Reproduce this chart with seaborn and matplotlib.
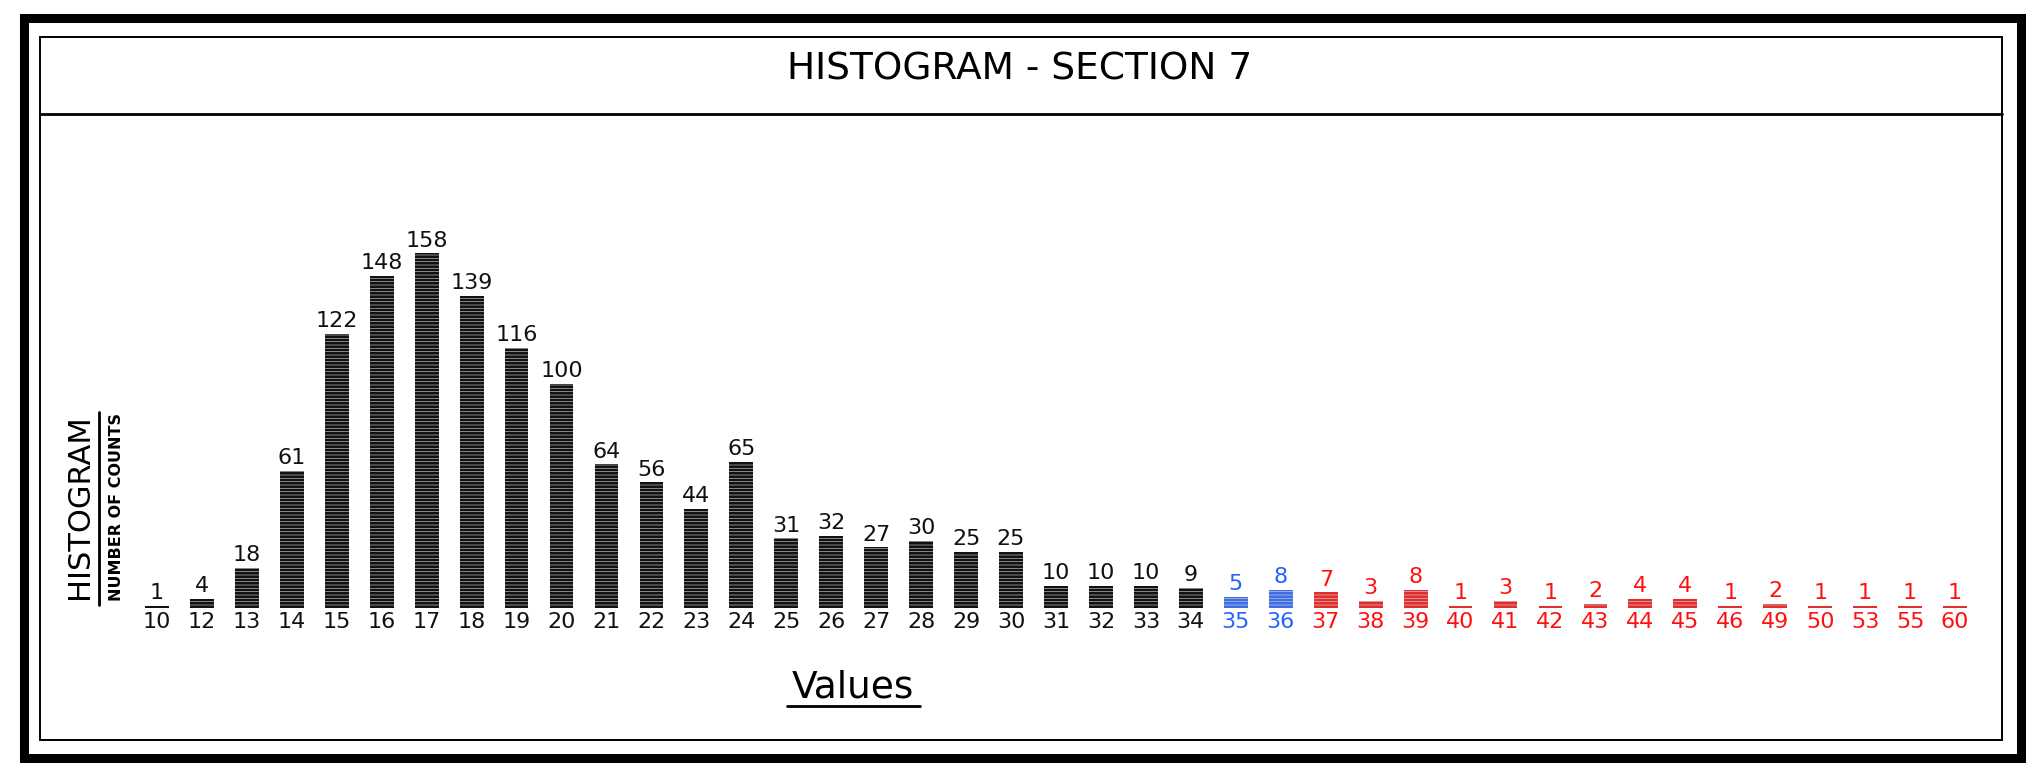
import numpy as np
import pandas as pd
import matplotlib
matplotlib.use('Agg')
import matplotlib.pyplot as plt
from matplotlib.lines import Line2D
from matplotlib.patches import Rectangle
import seaborn as sns

sns.set_style('white')
plt.rcParams['font.family'] = ['DejaVu Sans']
plt.rcParams['hatch.linewidth'] = 0.4

# data
values = ['10', '12', '13', '14', '15', '16', '17', '18', '19', '20',
          '21', '22', '23', '24', '25', '26', '27', '28', '29', '30',
          '31', '32', '33', '34', '35', '36', '37', '38', '39', '40',
          '41', '42', '43', '44', '45', '46', '49', '50', '53', '55', '60']
counts = [1, 4, 18, 61, 122, 148, 158, 139, 116, 100,
          64, 56, 44, 65, 31, 32, 27, 30, 25, 25,
          10, 10, 10, 9, 5, 8, 7, 3, 8, 1,
          3, 1, 2, 4, 4, 1, 2, 1, 1, 1, 1]
groups = ['black'] * 24 + ['blue'] * 2 + ['red'] * 15

colors = {'black': '#111111', 'blue': '#2462ff', 'red': '#ff1010'}

df = pd.DataFrame({'value': values, 'count': counts, 'group': groups})

W, H = 2040, 763
fig = plt.figure(figsize=(W / 100, H / 100), dpi=100)

def px(x, y):
    return x / W, 1 - y / H

# frame
fig.add_artist(Rectangle(px(24, 758), 1997 / W, 740 / H, fill=False,
                         lw=6.5, ec='black', transform=fig.transFigure))
fig.add_artist(Rectangle(px(40, 740), 1962 / W, 703 / H, fill=False,
                         lw=1.4, ec='black', transform=fig.transFigure))
fig.add_artist(Line2D([40 / W, 2002 / W], [1 - 114 / H, 1 - 114 / H],
                      lw=2, color='black', transform=fig.transFigure))

fig.text(*px(1020, 70), 'HISTOGRAM - SECTION 7', ha='center', va='center',
         fontsize=27, color='black')

ax = fig.add_axes([134.5 / W, 155 / H, 1843 / W, 449 / H])
sns.barplot(data=df, x='value', y='count', hue='group', order=values,
            hue_order=['black', 'blue', 'red'], palette=colors,
            dodge=False, width=0.53, legend=False, ax=ax)
ax.set_ylim(0, 200)
ax.set_xlim(-0.5, len(values) - 0.5)
sns.despine(ax=ax, left=True, bottom=True)
ax.set_yticks([])
ax.set_xlabel('')
ax.set_ylabel('')

for p in ax.patches:
    p.set_hatch('-----')
    p.set_edgecolor('#dddddd')
    p.set_linewidth(0)

for cont, g in zip(ax.containers, ['black', 'blue', 'red']):
    ax.bar_label(cont, fmt='%g', padding=2, fontsize=16, color=colors[g])

ax.tick_params(axis='x', length=0, pad=3, labelsize=16)
for lab, g in zip(ax.get_xticklabels(), groups):
    lab.set_color(colors[g])

# x label, underlined
fig.text(*px(853, 688), 'Values', ha='center', va='center', fontsize=27,
         color='black')
fig.add_artist(Line2D([787 / W, 920 / W], [1 - 706 / H, 1 - 706 / H],
                      lw=2, color='black', transform=fig.transFigure))

# y label, underlined
fig.text(*px(80, 507), 'HISTOGRAM', rotation=90, ha='center', va='center',
         fontsize=22, color='black')
fig.add_artist(Line2D([99 / W, 99 / W], [1 - 412 / H, 1 - 605 / H],
                      lw=2, color='black', transform=fig.transFigure))
fig.text(*px(117, 507), 'NUMBER OF COUNTS', rotation=90, ha='center',
         va='center', fontsize=11.5, fontweight='bold', color='black')

fig.savefig('out.png', dpi=100)
plt.close()
